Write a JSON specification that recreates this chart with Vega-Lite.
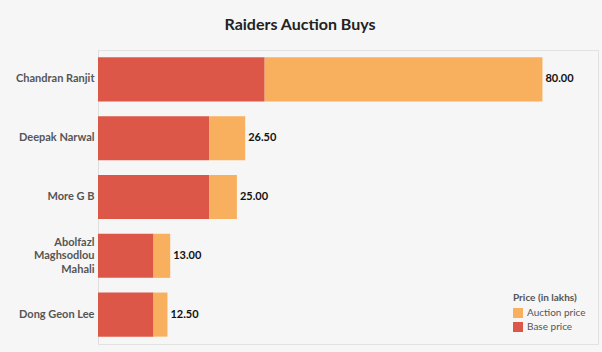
{
  "$schema": "https://vega.github.io/schema/vega-lite/v6.json",
  "autosize": "none",
  "width": 500,
  "height": 294,
  "padding": {"left": 98, "top": 50, "right": 4, "bottom": 8},
  "background": "#f6f6f6",
  "title": {
    "text": "Raiders Auction Buys",
    "anchor": "middle",
    "frame": "group",
    "dx": -48,
    "offset": 17,
    "font": "Lato",
    "fontSize": 16,
    "fontWeight": "bold",
    "color": "#222"
  },
  "config": {
    "view": {"stroke": "#e2e2e2", "strokeWidth": 1},
    "font": "Lato"
  },
  "data": {
    "values": [
      {"player": "Chandran Ranjit", "type": "Base price", "value": 30, "total": 80.0, "seg": 1},
      {"player": "Chandran Ranjit", "type": "Auction price", "value": 50, "total": 80.0, "seg": 2},
      {"player": "Deepak Narwal", "type": "Base price", "value": 20, "total": 26.5, "seg": 1},
      {"player": "Deepak Narwal", "type": "Auction price", "value": 6.5, "total": 26.5, "seg": 2},
      {"player": "More G B", "type": "Base price", "value": 20, "total": 25.0, "seg": 1},
      {"player": "More G B", "type": "Auction price", "value": 5, "total": 25.0, "seg": 2},
      {"player": "Abolfazl Maghsodlou Mahali", "type": "Base price", "value": 10, "total": 13.0, "seg": 1},
      {"player": "Abolfazl Maghsodlou Mahali", "type": "Auction price", "value": 3, "total": 13.0, "seg": 2},
      {"player": "Dong Geon Lee", "type": "Base price", "value": 10, "total": 12.5, "seg": 1},
      {"player": "Dong Geon Lee", "type": "Auction price", "value": 2.5, "total": 12.5, "seg": 2}
    ]
  },
  "encoding": {
    "y": {
      "field": "player",
      "type": "nominal",
      "sort": ["Chandran Ranjit", "Deepak Narwal", "More G B", "Abolfazl Maghsodlou Mahali", "Dong Geon Lee"],
      "scale": {"paddingInner": 0.25, "paddingOuter": 0.125},
      "axis": {
        "title": null,
        "ticks": false,
        "domain": true,
        "domainColor": "#dedede",
        "labelFont": "Lato",
        "labelFontSize": 11,
        "labelFontWeight": "bold",
        "labelColor": "#555",
        "labelPadding": 4,
        "labelLimit": 200,
        "labelLineHeight": 13.5,
        "labelOffset": {"condition": {"test": "datum.value == 'Abolfazl Maghsodlou Mahali'", "value": -13}, "value": 0},
        "labelExpr": "datum.value == 'Abolfazl Maghsodlou Mahali' ? ['Abolfazl', 'Maghsodlou', 'Mahali'] : datum.value"
      }
    }
  },
  "layer": [
    {
      "mark": {"type": "bar", "stroke": null},
      "encoding": {
        "x": {
          "field": "value",
          "type": "quantitative",
          "stack": "zero",
          "scale": {"domain": [0, 90], "nice": false},
          "axis": null
        },
        "color": {
          "field": "type",
          "type": "nominal",
          "scale": {"domain": ["Auction price", "Base price"], "range": ["#f8b05e", "#dc5747"]},
          "legend": {
            "title": "Price (in lakhs)",
            "orient": "bottom-right",
            "offset": 12,
            "titleFont": "Lato",
            "titleFontSize": 10,
            "titleFontWeight": "bold",
            "titleColor": "#555",
            "labelFont": "Lato",
            "labelFontSize": 10,
            "labelColor": "#555",
            "symbolType": "square",
            "symbolSize": 100,
            "symbolStrokeWidth": 0,
            "symbolOpacity": 1,
            "rowPadding": 4,
            "padding": 0
          }
        },
        "order": {"field": "seg", "type": "quantitative"}
      }
    },
    {
      "transform": [{"filter": "datum.type == 'Base price'"}],
      "mark": {"type": "text", "align": "left", "dx": 3, "font": "Lato", "fontSize": 11, "fontWeight": "bold", "color": "#111"},
      "encoding": {
        "x": {"field": "total", "type": "quantitative"},
        "text": {"field": "total", "type": "quantitative", "format": ".2f"}
      }
    }
  ]
}
